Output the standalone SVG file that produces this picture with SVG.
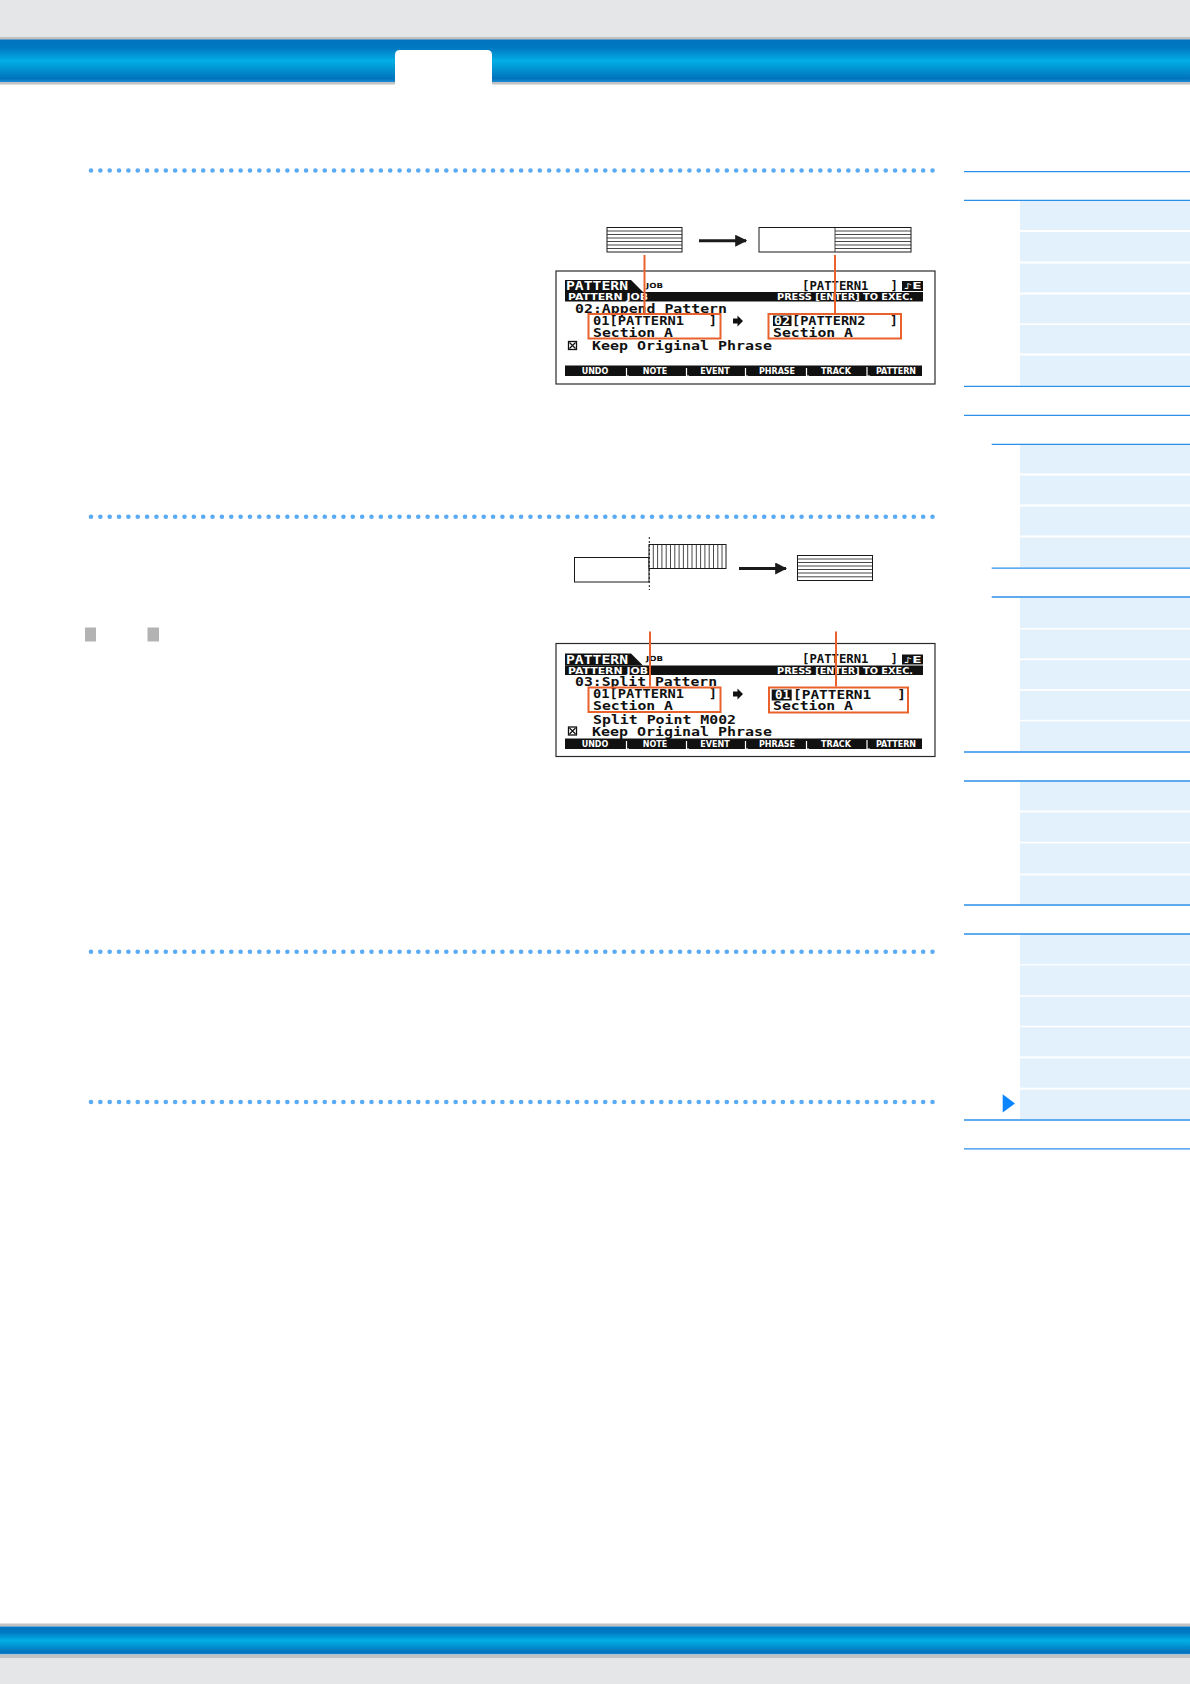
<svg xmlns="http://www.w3.org/2000/svg" width="1190" height="1684" viewBox="0 0 1190 1684">
<defs>
<linearGradient id="bar" x1="0" y1="0" x2="0" y2="1">
<stop offset="0" stop-color="#0174be"/>
<stop offset="0.2" stop-color="#0178c2"/>
<stop offset="0.5" stop-color="#03aee6"/>
<stop offset="0.62" stop-color="#029fd9"/>
<stop offset="0.92" stop-color="#0172bd"/>
<stop offset="1" stop-color="#1b8dd2"/>
</linearGradient>
<marker id="ah" viewBox="0 0 10 10" refX="9" refY="5" markerWidth="4" markerHeight="4" markerUnits="strokeWidth" orient="auto">
<path d="M0,0 L10,5 L0,10 z" fill="#1a1a1a"/>
</marker>
</defs>
<style>
.nl{stroke:#2a8fe8;stroke-width:1.3}
.cell{fill:#e3f1fd}
.dots{stroke:#5aabf5;stroke-width:4.6;stroke-linecap:round;stroke-dasharray:0 9.35;fill:none}
.frame{fill:#fff;stroke:#2a2a2a;stroke-width:1.2}
.lcd{font-family:"DejaVu Sans Mono","Liberation Mono",monospace;font-size:12px;font-weight:bold;fill:#111}
.lcdw{font-family:"DejaVu Sans","Liberation Sans",sans-serif;font-weight:bold;font-size:8px;fill:#fff}
.lcdb{font-family:"DejaVu Sans","Liberation Sans",sans-serif;font-weight:bold;font-size:7px;fill:#111}
.hdr{font-family:"DejaVu Sans Mono","Liberation Mono",monospace;font-size:13px;font-weight:bold;fill:#fff}
.or{fill:none;stroke:#e9622b;stroke-width:2}
.orl{stroke:#e9622b;stroke-width:2}
.box{fill:#fff;stroke:#1a1a1a;stroke-width:1}
.hl{stroke:#1a1a1a;stroke-width:0.8}
.arr{stroke:#1a1a1a;stroke-width:3}
.sep{stroke:#fff;stroke-width:1.2;fill:none}
</style>
<rect width="1190" height="1684" fill="#fff"/>
<g id="page-header">
<rect x="0" y="0" width="1190" height="38" fill="#e5e6e8"/>
<rect x="0" y="37" width="1190" height="3" fill="#bfc1c3"/>
<rect x="0" y="39.5" width="1190" height="42.5" fill="url(#bar)"/>
<rect x="0" y="82" width="1190" height="2.5" fill="#bfc1c3"/>
<path d="M395,85 L395,55 Q395,50 400,50 L487,50 Q492,50 492,55 L492,85 Z" fill="#fff"/>
</g>
<g id="page-footer">
<rect x="0" y="1623.5" width="1190" height="3" fill="#bfc1c3"/>
<rect x="0" y="1626.5" width="1190" height="28" fill="url(#bar)"/>
<rect x="0" y="1654.5" width="1190" height="4" fill="#bfc1c3"/>
<rect x="0" y="1658.5" width="1190" height="25.5" fill="#e5e6e8"/>
</g>
<g id="separators">
<path class="dots" d="M91,170.5 H934"/>
<path class="dots" d="M91,516.8 H934"/>
<path class="dots" d="M91,951.8 H934"/>
<path class="dots" d="M91,1102 H934"/>
</g>
<g id="markers">
<rect x="85" y="627.5" width="11" height="14" fill="#b3b3b3"/>
<rect x="147.5" y="627.5" width="11.5" height="14" fill="#b3b3b3"/>
</g>
<g id="side-nav">
<g class="cell">
<rect x="1020" y="201" width="170" height="29"/>
<rect x="1020" y="232" width="170" height="29.5"/>
<rect x="1020" y="263.5" width="170" height="29"/>
<rect x="1020" y="294.5" width="170" height="29"/>
<rect x="1020" y="325" width="170" height="28.5"/>
<rect x="1020" y="355.5" width="170" height="30"/>
<rect x="1020" y="445" width="170" height="28.5"/>
<rect x="1020" y="475.5" width="170" height="29"/>
<rect x="1020" y="506.5" width="170" height="29"/>
<rect x="1020" y="537.5" width="170" height="30"/>
<rect x="1020" y="597.5" width="170" height="30.5"/>
<rect x="1020" y="629.5" width="170" height="29"/>
<rect x="1020" y="660.2" width="170" height="29"/>
<rect x="1020" y="690.8" width="170" height="29"/>
<rect x="1020" y="721.4" width="170" height="30"/>
<rect x="1020" y="781.8" width="170" height="28.7"/>
<rect x="1020" y="812.4" width="170" height="29.4"/>
<rect x="1020" y="843.4" width="170" height="30.2"/>
<rect x="1020" y="875.4" width="170" height="29"/>
<rect x="1020" y="934.8" width="170" height="29.4"/>
<rect x="1020" y="965.4" width="170" height="29.8"/>
<rect x="1020" y="996.7" width="170" height="29.1"/>
<rect x="1020" y="1027.3" width="170" height="29.1"/>
<rect x="1020" y="1058.3" width="170" height="29.4"/>
<rect x="1020" y="1089.6" width="170" height="29.5"/>
</g>
<line class="nl" x1="964" y1="171.7" x2="1190" y2="171.7"/>
<line class="nl" x1="964" y1="200.3" x2="1190" y2="200.3"/>
<line class="nl" x1="964" y1="386.3" x2="1190" y2="386.3"/>
<line class="nl" x1="964" y1="415.3" x2="1190" y2="415.3"/>
<line class="nl" x1="991.7" y1="444.3" x2="1190" y2="444.3"/>
<line class="nl" x1="991.7" y1="568.2" x2="1190" y2="568.2"/>
<line class="nl" x1="991.7" y1="597" x2="1190" y2="597"/>
<line class="nl" x1="964" y1="752" x2="1190" y2="752"/>
<line class="nl" x1="964" y1="781" x2="1190" y2="781"/>
<line class="nl" x1="964" y1="905" x2="1190" y2="905"/>
<line class="nl" x1="964" y1="934" x2="1190" y2="934"/>
<line class="nl" x1="964" y1="1120" x2="1190" y2="1120"/>
<line class="nl" x1="964" y1="1148.8" x2="1190" y2="1148.8"/>
<path d="M1002.7,1094.2 L1015,1103.4 L1002.7,1112.6 Z" fill="#0a84ff"/>
</g>
<g id="append-before">
<rect class="box" x="607" y="227.5" width="75" height="24.5"/>
<g class="hl">
<line x1="607" y1="231" x2="682" y2="231"/><line x1="607" y1="234.5" x2="682" y2="234.5"/><line x1="607" y1="238" x2="682" y2="238"/><line x1="607" y1="241.5" x2="682" y2="241.5"/><line x1="607" y1="245" x2="682" y2="245"/><line x1="607" y1="248.5" x2="682" y2="248.5"/>
</g>
</g>
<g id="append-after">
<rect class="box" x="759" y="227.5" width="152" height="24.5"/>
<line class="hl" x1="835" y1="227.5" x2="835" y2="252"/>
<g class="hl">
<line x1="835" y1="231" x2="911" y2="231"/><line x1="835" y1="234.5" x2="911" y2="234.5"/><line x1="835" y1="238" x2="911" y2="238"/><line x1="835" y1="241.5" x2="911" y2="241.5"/><line x1="835" y1="245" x2="911" y2="245"/><line x1="835" y1="248.5" x2="911" y2="248.5"/>
</g>
</g>
<g id="lcd-append">
<rect class="frame" x="556" y="271" width="379" height="113"/>
<path d="M565,280 L631,280 L643,292 L565,292 Z" fill="#111"/>
<text class="hdr" x="566" y="290" textLength="62" lengthAdjust="spacingAndGlyphs">PATTERN</text>
<text class="lcdb" x="646" y="287.5" textLength="17" lengthAdjust="spacingAndGlyphs">JOB</text>
<text class="lcd" x="802" y="289.5" textLength="96" lengthAdjust="spacingAndGlyphs" xml:space="preserve">[PATTERN1   ]</text>
<rect x="902" y="281" width="21" height="10" fill="#111"/>
<text class="lcdw" x="903.5" y="289" textLength="18" lengthAdjust="spacingAndGlyphs">♪E</text>
<rect x="565" y="292" width="358" height="9.5" fill="#111"/>
<text class="lcdw" x="568" y="300" textLength="80" lengthAdjust="spacingAndGlyphs">PATTERN JOB</text>
<text class="lcdw" x="777" y="300" textLength="136" lengthAdjust="spacingAndGlyphs">PRESS [ENTER] TO EXEC.</text>
<text class="lcd" x="575" y="312.5" textLength="152" lengthAdjust="spacingAndGlyphs">02:Append Pattern</text>
<text class="lcd" x="593" y="324.5" textLength="124" lengthAdjust="spacingAndGlyphs" xml:space="preserve">01[PATTERN1   ]</text>
<text class="lcd" x="593" y="336.5" textLength="80" lengthAdjust="spacingAndGlyphs">Section A</text>
<path d="M733,318.5 H737.5 V315.5 L743,321 L737.5,326.5 V323.5 H733 Z" fill="#111"/>
<rect x="773" y="315.5" width="18.5" height="10.5" fill="#111"/>
<text class="lcd" x="774" y="324.5" textLength="16" lengthAdjust="spacingAndGlyphs" style="fill:#fff">02</text>
<text class="lcd" x="792" y="324.5" textLength="106" lengthAdjust="spacingAndGlyphs" xml:space="preserve">[PATTERN2   ]</text>
<text class="lcd" x="773" y="336.5" textLength="80" lengthAdjust="spacingAndGlyphs">Section A</text>
<rect x="568.5" y="341.5" width="8" height="8" fill="none" stroke="#111" stroke-width="1.3"/>
<path d="M569.5,342.5 L575.5,348.5 M575.5,342.5 L569.5,348.5" stroke="#111" stroke-width="1.2"/>
<text class="lcd" x="592" y="350" textLength="180" lengthAdjust="spacingAndGlyphs">Keep Original Phrase</text>
<rect x="565" y="365.5" width="357" height="10.5" fill="#111"/>
<g class="sep">
<path d="M626.5,368 V376 H629"/><path d="M686.5,368 V376 H689"/><path d="M745.5,368 V376 H748"/><path d="M806.5,368 V376 H809"/><path d="M867,367 V376 H870"/>
</g>
<text class="lcdw" x="595" y="374" text-anchor="middle">UNDO</text>
<text class="lcdw" x="655" y="374" text-anchor="middle">NOTE</text>
<text class="lcdw" x="715" y="374" text-anchor="middle">EVENT</text>
<text class="lcdw" x="777" y="374" text-anchor="middle">PHRASE</text>
<text class="lcdw" x="836" y="374" text-anchor="middle">TRACK</text>
<text class="lcdw" x="896" y="374" text-anchor="middle">PATTERN</text>
<rect class="or" x="588.5" y="314" width="132" height="24.5"/>
<rect class="or" x="768.5" y="314" width="132.5" height="24.5"/>
</g>
<g id="split-before">
<rect class="box" x="574.5" y="557.5" width="74.5" height="24.5"/>
<rect class="box" x="649" y="544.5" width="77" height="24"/>
<g class="hl">
<line x1="653.3" y1="544.5" x2="653.3" y2="568.5"/><line x1="657.6" y1="544.5" x2="657.6" y2="568.5"/><line x1="661.9" y1="544.5" x2="661.9" y2="568.5"/><line x1="666.2" y1="544.5" x2="666.2" y2="568.5"/><line x1="670.5" y1="544.5" x2="670.5" y2="568.5"/><line x1="674.8" y1="544.5" x2="674.8" y2="568.5"/><line x1="679.1" y1="544.5" x2="679.1" y2="568.5"/><line x1="683.4" y1="544.5" x2="683.4" y2="568.5"/><line x1="687.7" y1="544.5" x2="687.7" y2="568.5"/><line x1="692" y1="544.5" x2="692" y2="568.5"/><line x1="696.3" y1="544.5" x2="696.3" y2="568.5"/><line x1="700.6" y1="544.5" x2="700.6" y2="568.5"/><line x1="704.9" y1="544.5" x2="704.9" y2="568.5"/><line x1="709.2" y1="544.5" x2="709.2" y2="568.5"/><line x1="713.5" y1="544.5" x2="713.5" y2="568.5"/><line x1="717.8" y1="544.5" x2="717.8" y2="568.5"/><line x1="722" y1="544.5" x2="722" y2="568.5"/>
</g>
<line x1="649.3" y1="537" x2="649.3" y2="590" stroke="#1a1a1a" stroke-width="1" stroke-dasharray="2 2"/>
</g>
<g id="split-after">
<rect class="box" x="797.5" y="555.5" width="75" height="25"/>
<g class="hl">
<line x1="797.5" y1="559" x2="872.5" y2="559"/><line x1="797.5" y1="562.5" x2="872.5" y2="562.5"/><line x1="797.5" y1="566" x2="872.5" y2="566"/><line x1="797.5" y1="569.5" x2="872.5" y2="569.5"/><line x1="797.5" y1="573" x2="872.5" y2="573"/><line x1="797.5" y1="576.8" x2="872.5" y2="576.8"/>
</g>
</g>
<g id="lcd-split">
<rect class="frame" x="556" y="643.5" width="379" height="113"/>
<path d="M565,653.5 L631,653.5 L643,665.5 L565,665.5 Z" fill="#111"/>
<text class="hdr" x="566" y="663.5" textLength="62" lengthAdjust="spacingAndGlyphs">PATTERN</text>
<text class="lcdb" x="646" y="661" textLength="17" lengthAdjust="spacingAndGlyphs">JOB</text>
<text class="lcd" x="802" y="663" textLength="96" lengthAdjust="spacingAndGlyphs" xml:space="preserve">[PATTERN1   ]</text>
<rect x="902" y="654.5" width="21" height="10" fill="#111"/>
<text class="lcdw" x="903.5" y="662.5" textLength="18" lengthAdjust="spacingAndGlyphs">♪E</text>
<rect x="565" y="665.5" width="358" height="9.5" fill="#111"/>
<text class="lcdw" x="568" y="673.5" textLength="80" lengthAdjust="spacingAndGlyphs">PATTERN JOB</text>
<text class="lcdw" x="777" y="673.5" textLength="136" lengthAdjust="spacingAndGlyphs">PRESS [ENTER] TO EXEC.</text>
<text class="lcd" x="575" y="686" textLength="142" lengthAdjust="spacingAndGlyphs">03:Split Pattern</text>
<text class="lcd" x="593" y="698" textLength="124" lengthAdjust="spacingAndGlyphs" xml:space="preserve">01[PATTERN1   ]</text>
<text class="lcd" x="593" y="709.5" textLength="80" lengthAdjust="spacingAndGlyphs">Section A</text>
<path d="M733,691.5 H737.5 V688.5 L743,694 L737.5,699.5 V696.5 H733 Z" fill="#111"/>
<rect x="771.7" y="689.5" width="20" height="11" fill="#111"/>
<text class="lcd" x="775" y="698.5" textLength="15" lengthAdjust="spacingAndGlyphs" style="fill:#fff">01</text>
<text class="lcd" x="793" y="698.5" textLength="113" lengthAdjust="spacingAndGlyphs" xml:space="preserve">[PATTERN1   ]</text>
<text class="lcd" x="773" y="709.5" textLength="80" lengthAdjust="spacingAndGlyphs">Section A</text>
<text class="lcd" x="593" y="723.5" textLength="143" lengthAdjust="spacingAndGlyphs">Split Point M002</text>
<rect x="568.5" y="727" width="8" height="8" fill="none" stroke="#111" stroke-width="1.3"/>
<path d="M569.5,728 L575.5,734 M575.5,728 L569.5,734" stroke="#111" stroke-width="1.2"/>
<text class="lcd" x="592" y="736" textLength="180" lengthAdjust="spacingAndGlyphs">Keep Original Phrase</text>
<rect x="565" y="738.5" width="357" height="10.5" fill="#111"/>
<g class="sep">
<path d="M626.5,741 V749 H629"/><path d="M686.5,741 V749 H689"/><path d="M745.5,741 V749 H748"/><path d="M806.5,741 V749 H809"/><path d="M867,740 V749 H870"/>
</g>
<text class="lcdw" x="595" y="747" text-anchor="middle">UNDO</text>
<text class="lcdw" x="655" y="747" text-anchor="middle">NOTE</text>
<text class="lcdw" x="715" y="747" text-anchor="middle">EVENT</text>
<text class="lcdw" x="777" y="747" text-anchor="middle">PHRASE</text>
<text class="lcdw" x="836" y="747" text-anchor="middle">TRACK</text>
<text class="lcdw" x="896" y="747" text-anchor="middle">PATTERN</text>
<rect class="or" x="588.5" y="687.5" width="132" height="24.5"/>
<rect class="or" x="769" y="687.5" width="139" height="25"/>
</g>
<g id="connectors">
<line class="arr" x1="699" y1="240.7" x2="746" y2="240.7" marker-end="url(#ah)"/>
<line class="arr" x1="739" y1="568.5" x2="786" y2="568.5" marker-end="url(#ah)"/>
<line class="orl" x1="644.5" y1="255" x2="644.5" y2="313"/>
<line class="orl" x1="835" y1="255" x2="835" y2="313"/>
<line class="orl" x1="650" y1="631.5" x2="650" y2="686.5"/>
<line class="orl" x1="836" y1="631.5" x2="836" y2="686.5"/>
</g>
</svg>
